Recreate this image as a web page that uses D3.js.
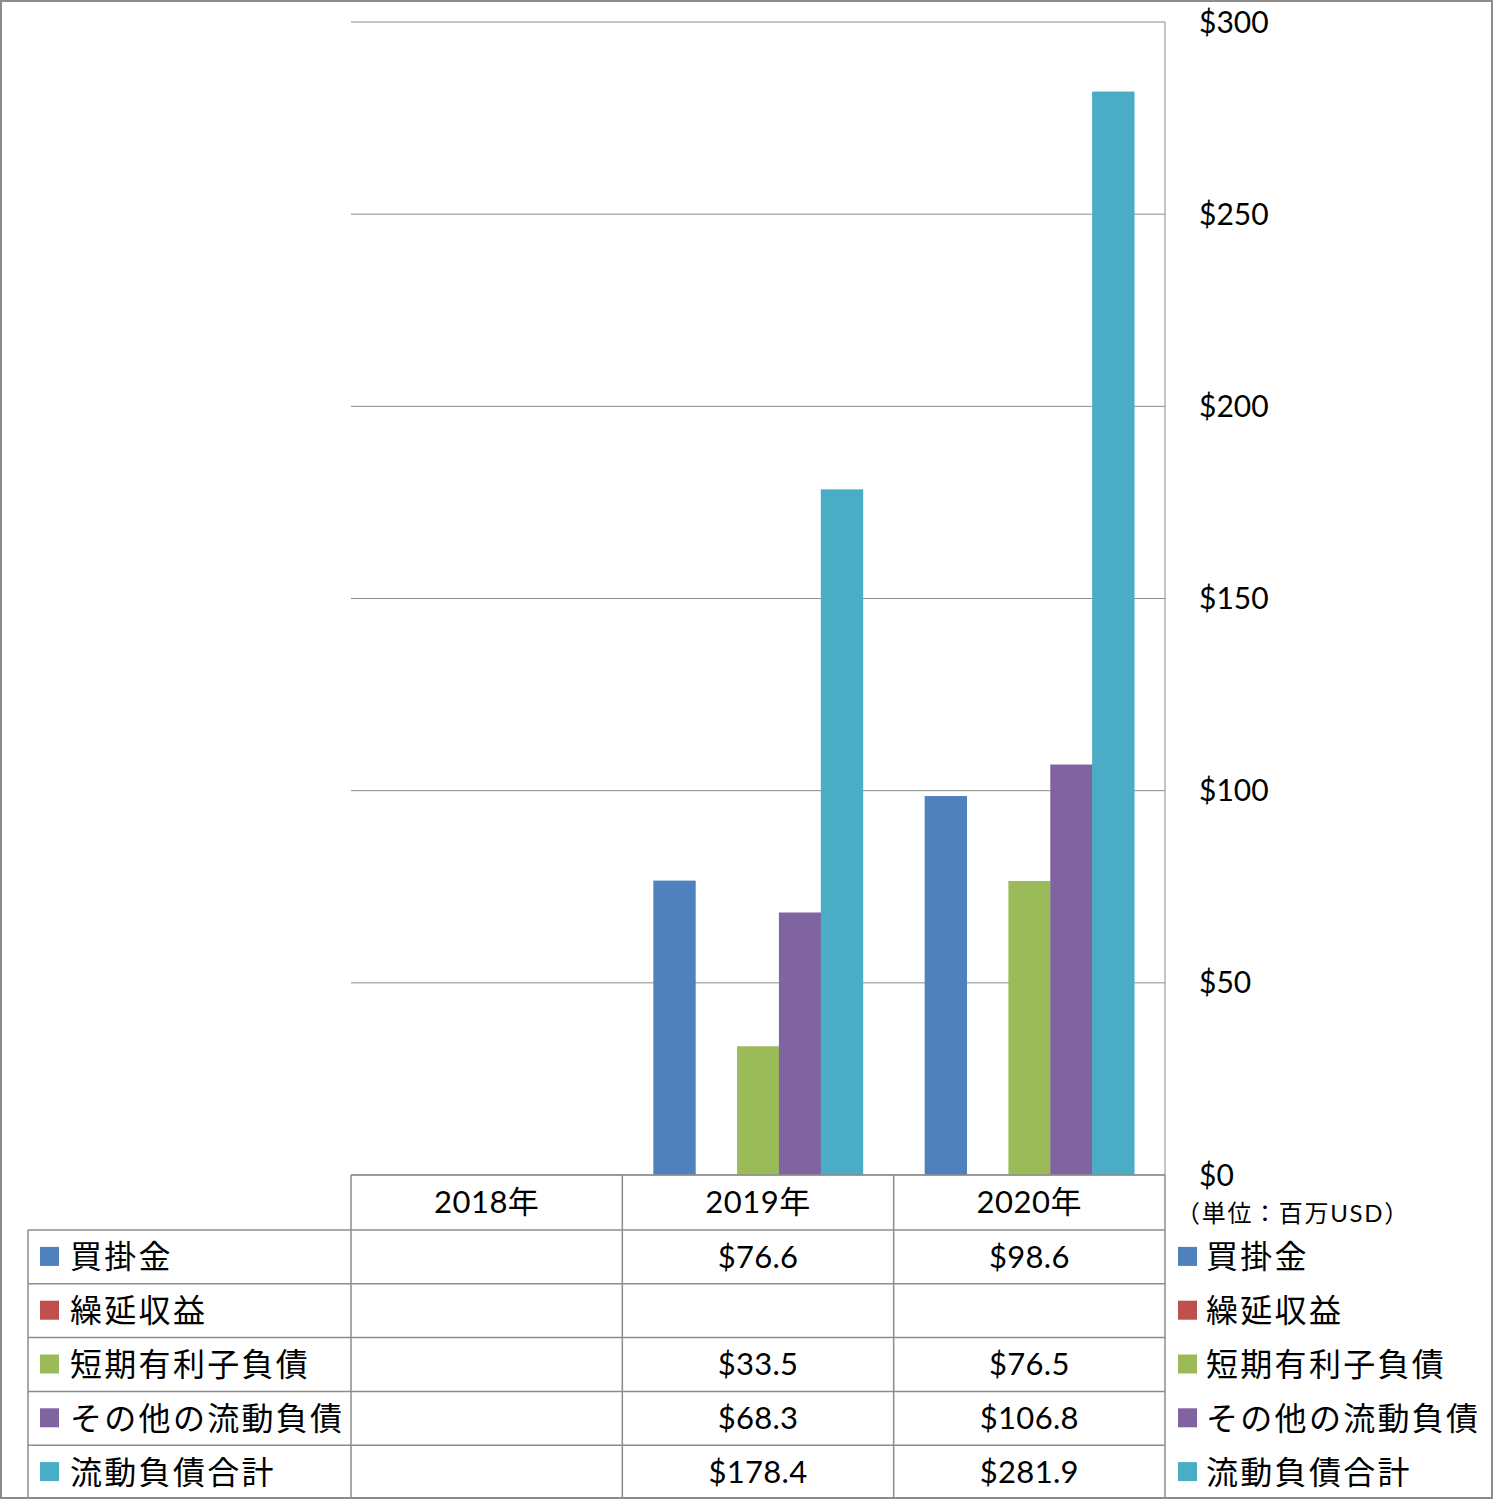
<!DOCTYPE html>
<html><head><meta charset="utf-8">
<script src="https://cdn.jsdelivr.net/npm/d3@7"></script>
<style>body{margin:0;background:#fff}text{font-family:Lato,"Noto Sans CJK JP",sans-serif}</style>
</head><body><svg id="c" width="1493" height="1500"></svg>
<script>
const categories = ["2018年","2019年","2020年"];
const seriesNames = ["買掛金","繰延収益","短期有利子負債","その他の流動負債","流動負債合計"];
const seriesColors = ["#4F81BD","#C0504D","#9BBB59","#8064A2","#4BACC6"];
const s_kaikake = [null, 76.6, 98.6];
const s_kurinobe = [null, null, null];
const s_tanki = [null, 33.5, 76.5];
const s_sonota = [null, 68.3, 106.8];
const s_gokei = [null, 178.4, 281.9];
const yTicks = [0,50,100,150,200,250,300];
const unitLabel = "（単位：百万USD）";

const series = [s_kaikake, s_kurinobe, s_tanki, s_sonota, s_gokei];
const svg = d3.select("#c");
const L = 351, R = 1165, T = 22, B = 1175;
const x = d3.scaleBand().domain(categories).range([L, R]);
const bw = x.bandwidth()/6.48;
const innerX = i => (x.bandwidth() - bw*5)/2 + i*bw;
const y = d3.scaleLinear().domain([0,300]).range([B, T]);
const gray = "#8c8c8c";

svg.append("rect").attr("x",1).attr("y",1).attr("width",1491).attr("height",1497).attr("fill","none").attr("stroke",gray).attr("stroke-width",2);

svg.append("g").selectAll("line").data(yTicks).join("line")
  .attr("x1",L).attr("x2",R).attr("y1",d=>y(d)).attr("y2",d=>y(d)).attr("stroke",gray).attr("stroke-width",1);
svg.append("line").attr("x1",R).attr("x2",R).attr("y1",T).attr("y2",B).attr("stroke",gray);

series.forEach((s,i)=>{
  svg.append("g").selectAll("rect").data(categories.map((c,j)=>({c,v:s[j]})).filter(d=>d.v!=null)).join("rect")
    .attr("x",d=>x(d.c)+innerX(i)).attr("width",bw+0.5)
    .attr("y",d=>y(d.v)).attr("height",d=>B-y(d.v)).attr("fill",seriesColors[i]);
});

svg.append("g").selectAll("text").data(yTicks).join("text")
  .attr("x",1199).attr("y",d=>y(d)).attr("dy","0.35em").attr("font-size",30).attr("fill","#000")
  .text(d=>"$"+d);
svg.append("text").attr("x",1176).attr("y",1214).attr("dy","0.35em").attr("font-size",24).attr("letter-spacing",1.7).text(unitLabel);

const rowTop = 1230, rowH = 53.8, tableL = 28, bottom = 1499;
const tl = svg.append("g").attr("stroke",gray).attr("stroke-width",1.5);
[L, ...categories.map(c=>x(c)+x.bandwidth())].forEach(xx=>{
  tl.append("line").attr("x1",xx).attr("x2",xx).attr("y1",B).attr("y2",bottom);
});
tl.append("line").attr("x1",tableL).attr("x2",tableL).attr("y1",rowTop).attr("y2",bottom);
d3.range(series.length).forEach(i=>{
  tl.append("line").attr("x1",tableL).attr("x2",R).attr("y1",rowTop+i*rowH).attr("y2",rowTop+i*rowH);
});
tl.append("line").attr("x1",L).attr("x2",R).attr("y1",B).attr("y2",B);

svg.append("g").selectAll("text").data(categories).join("text")
  .attr("x",d=>x(d)+x.bandwidth()/2).attr("y",(B+rowTop)/2).attr("dy","0.35em")
  .attr("text-anchor","middle").attr("font-size",31).attr("letter-spacing",0.5).text(d=>d);

series.forEach((s,i)=>{
  const cy = rowTop + i*rowH + rowH/2;
  svg.append("rect").attr("x",40).attr("y",cy-10).attr("width",19).attr("height",19).attr("fill",seriesColors[i]);
  svg.append("text").attr("x",70).attr("y",cy).attr("dy","0.36em").attr("font-size",32).attr("letter-spacing",2.3).text(seriesNames[i]);
  svg.append("rect").attr("x",1178).attr("y",cy-10).attr("width",19).attr("height",19).attr("fill",seriesColors[i]);
  svg.append("text").attr("x",1206).attr("y",cy).attr("dy","0.36em").attr("font-size",32).attr("letter-spacing",2.3).text(seriesNames[i]);
  svg.append("g").selectAll("text").data(categories.map((c,j)=>({c,v:s[j]})).filter(d=>d.v!=null)).join("text")
    .attr("x",d=>x(d.c)+x.bandwidth()/2).attr("y",cy).attr("dy","0.35em")
    .attr("text-anchor","middle").attr("font-size",31).attr("letter-spacing",0.3).text(d=>"$"+d.v.toFixed(1));
});
</script></body></html>
